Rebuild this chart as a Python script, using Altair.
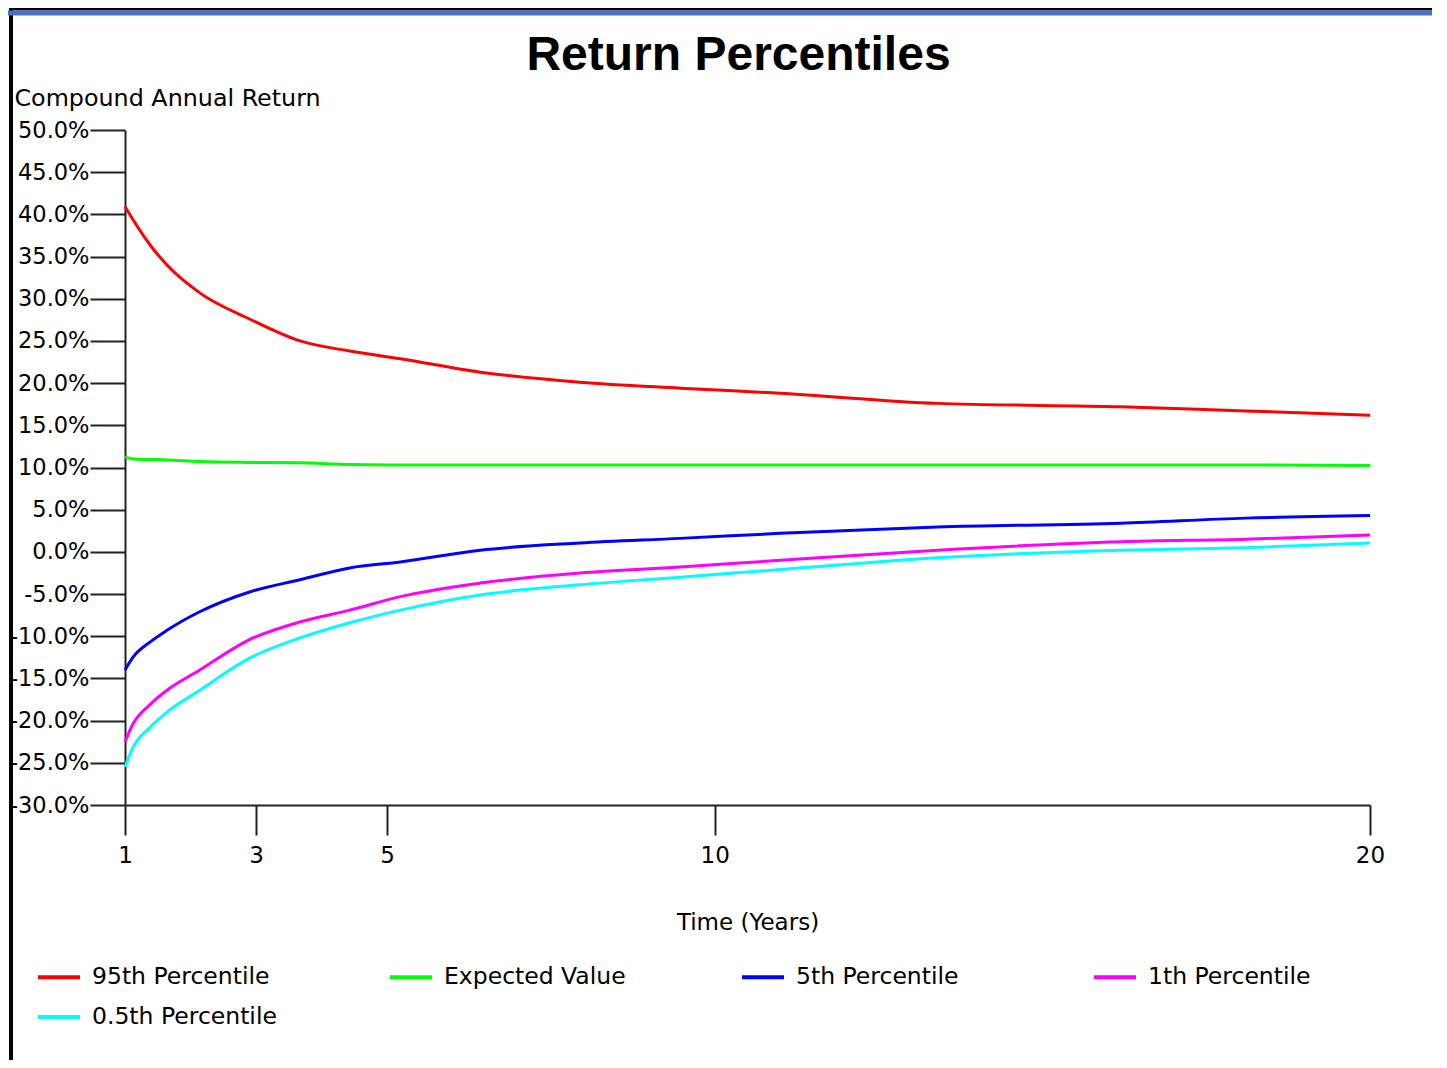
import altair as alt
import pandas as pd

# ---- data ----
years = [1, 1.12, 1.38, 1.64, 2.14, 2.9, 3.67, 4.43, 5.2, 6.42, 7.94, 9.47, 11, 13.4, 16.2, 18.1, 20]
p95 = [40.9, 39.4, 36.4, 34.0, 30.7, 27.6, 25.0, 23.8, 22.9, 21.3, 20.1, 19.4, 18.8, 17.6, 17.2, 16.7, 16.2]
expected = [11.25, 11.0, 10.95, 10.9, 10.7, 10.6, 10.55, 10.35, 10.3, 10.3, 10.3, 10.3, 10.3, 10.3, 10.3, 10.3, 10.25]
p5 = [-14.0, -12.5, -10.7, -9.3, -7.1, -4.75, -3.3, -1.9, -1.2, 0.2, 1.05, 1.6, 2.2, 2.95, 3.4, 4.0, 4.3]
p1 = [-22.5, -20.4, -18.1, -16.4, -14.0, -10.4, -8.3, -6.9, -5.3, -3.7, -2.5, -1.8, -1.0, 0.2, 1.2, 1.5, 2.0]
p05 = [-25.5, -23.2, -20.8, -19.0, -16.4, -12.6, -10.2, -8.4, -6.9, -5.1, -3.9, -3.0, -2.1, -0.7, 0.2, 0.5, 1.05]

series_names = ["95th Percentile", "Expected Value", "5th Percentile", "1th Percentile", "0.5th Percentile"]
series_colors = ["#FF0000", "#00FF00", "#0000FF", "#FF00FF", "#00FFFF"]
series_values = [p95, expected, p5, p1, p05]

x_ticks = [1, 3, 5, 10, 20]
y_ticks = list(range(-30, 55, 5))

rows = []
for name, vals in zip(series_names, series_values):
    for t, v in zip(years, vals):
        rows.append({"series": name, "year": t, "ret": v})
df = pd.DataFrame(rows)

FONT = "DejaVu Sans"

lines = alt.Chart(df).mark_line(strokeWidth=3, clip=False, interpolate="monotone").encode(
    x=alt.X("year:Q",
            scale=alt.Scale(domain=[1, 20], nice=False, zero=False),
            axis=alt.Axis(values=x_ticks, tickSize=30, tickWidth=2, tickColor="#222",
                          domainColor="#222", domainWidth=2, grid=False,
                          labelFont=FONT, labelFontSize=23, labelColor="#000",
                          labelPadding=9, labelFlush=False,
                          title="Time (Years)", titleFont=FONT, titleFontSize=23,
                          titleFontWeight="normal", titleColor="#000",
                          titleY=117, titleBaseline="middle")),
    y=alt.Y("ret:Q",
            scale=alt.Scale(domain=[-30, 50], nice=False, zero=False),
            axis=alt.Axis(values=y_ticks,
                          labelExpr="(datum.value < 0 ? '-' : '') + format(abs(datum.value), '.1f') + '%'",
                          tickSize=35, tickWidth=2, tickColor="#222",
                          domainColor="#222", domainWidth=2, grid=False,
                          labelFont=FONT, labelFontSize=22.5, labelColor="#000",
                          labelPadding=1, labelFlush=False, labelOverlap=False,
                          title="Compound Annual Return", titleFont=FONT, titleFontSize=23.8,
                          titleFontWeight="normal", titleColor="#000",
                          titleAngle=0, titleAlign="left", titleBaseline="middle",
                          titleX=-111, titleY=-32)),
    color=alt.Color("series:N",
                    scale=alt.Scale(domain=series_names, range=series_colors),
                    legend=alt.Legend(orient="none", legendX=-89, legendY=824,
                                      direction="horizontal", columns=4,
                                      title=None, symbolType="stroke",
                                      symbolSize=1764, symbolStrokeWidth=4,
                                      labelFont=FONT, labelFontSize=23.5, labelColor="#000",
                                      labelOffset=10, columnPadding=105, rowPadding=5,
                                      gridAlign="all", labelLimit=400)),
    order=alt.Order("year:Q"),
)

one = alt.Data(values=[{}])
left_border = alt.Chart(one).mark_rule(color="#000", strokeWidth=4).encode(
    x=alt.value(-114), y=alt.value(-125), y2=alt.value(940))
top_border = alt.Chart(one).mark_rule(color="#000", strokeWidth=3).encode(
    x=alt.value(-116), x2=alt.value(1320), y=alt.value(-121))
blue_border = alt.Chart(one).mark_rule(color="#4472C4", strokeWidth=5).encode(
    x=alt.value(-125), x2=alt.value(1320), y=alt.value(-117))

chart = alt.layer(lines, left_border, top_border, blue_border).properties(
    width=1245, height=675,
    autosize=alt.AutoSizeParams(type="none"),
    padding={"left": 117, "top": 122, "right": 62, "bottom": 255},
    view=alt.ViewBackground(stroke="transparent", strokeWidth=0, strokeOpacity=0),
    title=alt.TitleParams("Return Percentiles", font="Liberation Sans", fontSize=48,
                          fontWeight="bold", color="#000", anchor="middle",
                          frame="group", offset=0, dy=77, dx=-9),
).configure_view(strokeWidth=0, stroke="transparent").configure(background="#FFFFFF")

chart.save("out.html", embed_options={"renderer": "svg", "actions": False})
